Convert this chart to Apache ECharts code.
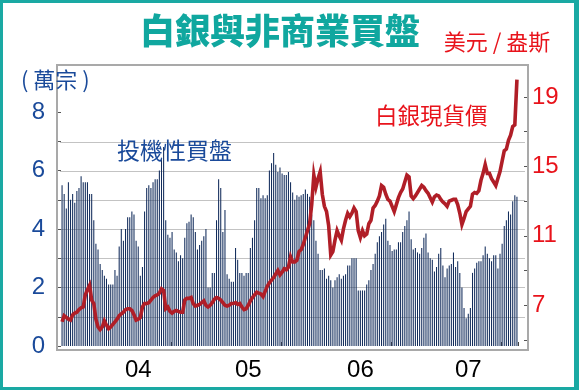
<!DOCTYPE html>
<html><head><meta charset="utf-8">
<script src="https://cdn.jsdelivr.net/npm/echarts@6/dist/echarts.min.js"></script>
<style>
html,body{margin:0;padding:0;background:#fff}
#wrap{position:relative;width:579px;height:390px}
#c{position:absolute;left:0;top:0;width:579px;height:390px}
#frame{position:absolute;left:0;top:0;width:579px;height:390px;box-sizing:border-box;border-style:solid;border-color:#1aa9a3;border-width:3px 5px 3px 3px;pointer-events:none}
</style>
</head><body><div id="wrap"><div id="c"></div><div id="frame"></div></div>
<script>
// Weekly non-commercial (speculative) net long, 10k contracts, Jan 2004 – Mar 2008
const speculativeBuying = [
5.5,5.2,4.7,5.6,5.0,5.2,4.9,5.3,5.4,5.8,
5.6,5.6,5.6,5.2,5.2,4.3,3.5,3.3,2.8,2.6,
2.4,2.3,2.1,2.1,2.1,2.6,2.4,3.4,4.0,3.6,
4.0,4.4,4.4,4.6,4.5,3.6,3.4,2.4,2.7,4.6,
5.4,5.5,5.4,5.6,5.7,5.7,6.0,6.4,6.8,4.3,
3.8,3.7,3.9,3.3,3.2,2.9,3.1,3.0,3.7,4.2,
4.25,4.5,4.4,3.9,3.3,3.45,3.6,3.75,4.0,2.0,
2.0,2.5,2.5,4.3,5.7,5.4,3.9,4.65,2.45,2.3,
2.2,2.2,3.35,2.95,2.5,2.5,2.4,2.5,2.5,3.35,
3.7,4.3,5.4,5.4,5.05,5.15,5.05,5.15,6.0,6.25,
6.6,6.2,5.95,6.1,5.9,5.85,5.85,5.95,5.6,5.25,
5.0,5.15,5.1,5.15,5.2,5.35,5.2,5.1,4.5,4.3,
3.6,3.15,2.6,2.6,2.65,2.3,2.4,2.25,2.0,2.25,
2.35,2.45,2.3,2.4,2.45,2.75,2.75,3.0,3.0,3.0,
1.9,1.9,1.9,1.9,2.1,2.25,2.6,2.8,3.15,3.55,
3.75,3.9,4.15,4.35,3.6,3.45,3.25,3.3,3.3,3.55,
3.55,3.9,4.1,4.3,4.6,3.65,3.3,3.35,3.2,3.15,
3.35,3.7,3.85,3.2,3.0,2.95,2.55,2.7,3.15,3.35,
2.75,2.35,2.65,2.75,2.8,3.2,2.7,2.9,2.5,2.0,
1.3,0.95,1.1,1.3,2.5,2.65,2.85,2.9,2.9,3.1,
3.4,3.15,3.0,2.9,3.1,3.1,2.65,3.15,3.5,4.1,
4.3,4.6,4.5,4.95,5.15,5.1
];
// Silver spot price, USD / oz, same weeks
const silverPrice = [
6.05,6.4,6.3,6.2,6.15,6.45,6.55,6.6,6.75,6.85,
6.9,7.6,7.9,8.15,7.3,7.1,6.2,5.75,5.6,5.75,
6.1,5.85,5.65,5.75,5.9,6.05,6.2,6.4,6.5,6.6,
6.75,6.8,6.8,6.7,6.45,6.15,6.2,6.3,6.9,7.1,
7.1,7.15,7.3,7.45,7.55,7.6,7.7,7.95,7.85,6.8,
6.9,6.65,6.55,6.65,6.7,6.65,6.6,6.6,7.3,7.4,
7.4,7.45,7.1,6.95,7.0,7.05,7.15,7.25,7.0,6.9,
7.0,7.15,7.35,7.45,7.4,7.3,7.15,7.0,6.95,7.0,
7.1,7.1,7.15,7.05,7.1,6.9,6.75,6.8,7.0,7.25,
7.45,7.6,7.75,7.7,7.65,7.5,7.8,8.1,8.3,8.45,
8.6,8.8,9.0,8.75,8.9,9.1,9.05,9.2,9.8,9.5,
9.5,9.6,10.1,10.2,10.5,10.9,11.3,11.7,12.8,14.5,
13.8,14.3,14.7,13.4,12.7,12.4,11.6,9.9,10.1,10.75,
11.3,11.0,10.75,11.4,11.9,12.3,12.1,12.3,12.6,12.4,
11.3,10.9,11.3,11.0,11.1,11.7,11.9,12.6,12.75,13.0,
13.3,13.9,13.8,13.4,13.1,13.0,12.7,12.4,12.8,13.2,
13.5,13.7,14.1,14.5,14.4,13.3,13.15,13.3,13.5,13.7,
13.9,13.8,13.6,13.45,13.2,12.95,13.25,13.35,13.3,13.1,
12.95,12.85,12.7,13.0,13.05,13.1,13.1,12.8,12.3,11.65,
12.0,12.4,12.55,12.7,13.4,13.5,13.45,13.6,14.2,14.6,
15.1,14.6,14.6,14.3,14.1,13.9,14.3,14.7,15.3,15.9,
16.0,16.5,16.8,17.3,17.4,20.0
];
const yearLabels = ['04','05','06','07'];
const yearLabelWeek = [36,88,141,192];
const yearStartWeek = [52,104,156,208];
const leftTickLabels = [0,2,4,6,8];
const rightTickLabels = [7,11,15,19];
const weeks = [];
for (let i = 0; i < speculativeBuying.length; i++) weeks.push('W' + i);

const BLUE = '#1a4a9a', RED = '#e8131b';
const chart = echarts.init(document.getElementById('c'), null, {renderer: 'canvas'});
chart.setOption({
  animation: false,
  backgroundColor: '#fff',
  grid: [
    {left: 61, right: 61, top: 112, bottom: 44},
    {left: 60, right: 54, top: 142, bottom: 44},
    {left: 61, right: 61, top: 97, bottom: 50}
  ],
  xAxis: [
    {type: 'category', gridIndex: 0, data: weeks, boundaryGap: true, offset: 4,
     axisLine: {show: false},
     axisTick: {show: true, inside: true, length: 4, interval: (i) => yearStartWeek.includes(i), lineStyle: {color: '#444', width: 1}},
     axisLabel: {interval: (i) => yearLabelWeek.includes(i), formatter: (v, i) => { const k = yearLabelWeek.indexOf(i); return k >= 0 ? yearLabels[k] : ''; },
       color: '#000', fontSize: 24, fontFamily: 'Liberation Sans', margin: 8},
     splitLine: {show: false}},
    {type: 'value', gridIndex: 1, min: 0, max: 1, show: false},
    {type: 'category', gridIndex: 2, data: weeks, boundaryGap: true, show: false}
  ],
  yAxis: [
    {type: 'value', gridIndex: 0, min: 0, max: 8, interval: 1, position: 'left', offset: 3,
     axisLine: {show: false},
     axisTick: {show: true, inside: true, length: 3, lineStyle: {color: '#555'}},
     axisLabel: {formatter: (v) => leftTickLabels.includes(v) ? String(v) : '', color: BLUE, fontSize: 24, fontFamily: 'Liberation Sans', margin: 13},
     splitLine: {show: false}},
    {type: 'value', gridIndex: 1, min: 0, max: 7, interval: 1,
     axisLine: {show: false}, axisTick: {show: false}, axisLabel: {show: false},
     splitLine: {show: true, showMinLine: false, lineStyle: {color: '#c3c3c3', width: 1}}},
    {type: 'value', gridIndex: 2, min: 5, max: 19, interval: 2, position: 'right', offset: 9,
     axisLine: {show: false},
     axisTick: {show: true, inside: true, length: 3, lineStyle: {color: '#555'}},
     axisLabel: {formatter: (v) => rightTickLabels.includes(v) ? String(v) : '', color: RED, fontSize: 24, fontFamily: 'Liberation Sans', margin: 5},
     splitLine: {show: false}}
  ],
  series: [
    {type: 'bar', xAxisIndex: 0, yAxisIndex: 0, data: speculativeBuying, barWidth: '50%',
     itemStyle: {color: '#132d5c'}, z: 2, silent: true},
    {type: 'line', xAxisIndex: 2, yAxisIndex: 2, data: silverPrice, symbol: 'none', clip: false,
     lineStyle: {color: '#b01e27', width: 3.6, join: 'miter'}, z: 3, silent: true}
  ],
  graphic: [
    {type: 'rect', shape: {x: 57, y: 65, width: 471, height: 285}, style: {fill: 'none', stroke: '#a9a9a9', lineWidth: 2}, z: 1},
    {type: 'text', x: 280, y: 31, style: {text: '白銀與非商業買盤', font: '900 35px "Noto Sans CJK TC"', fill: '#10a79f', stroke: '#ffffff', lineWidth: 2,
      textAlign: 'center', textVerticalAlign: 'middle', shadowColor: 'rgba(0,0,0,0.35)', shadowBlur: 3, shadowOffsetX: 3, shadowOffsetY: 3}, z: 10},
    {type: 'text', x: 497, y: 42, style: {text: '美元 / 盎斯', font: '22px "Noto Sans CJK TC"', fill: RED, textAlign: 'center', textVerticalAlign: 'middle'}, z: 10},
    {type: 'text', x: 21, y: 80, style: {text: '( 萬宗 )', font: '22px "Noto Sans CJK TC"', fill: BLUE, textAlign: 'left', textVerticalAlign: 'middle'}, z: 10},
    {type: 'text', x: 117, y: 150, style: {text: '投機性買盤', font: '23px "Noto Sans CJK TC"', fill: BLUE, textAlign: 'left', textVerticalAlign: 'middle'}, z: 10},
    {type: 'text', x: 375, y: 115, style: {text: '白銀現貨價', font: '22.5px "Noto Sans CJK TC"', fill: RED, textAlign: 'left', textVerticalAlign: 'middle'}, z: 10}
  ]
});
</script>
</body></html>
